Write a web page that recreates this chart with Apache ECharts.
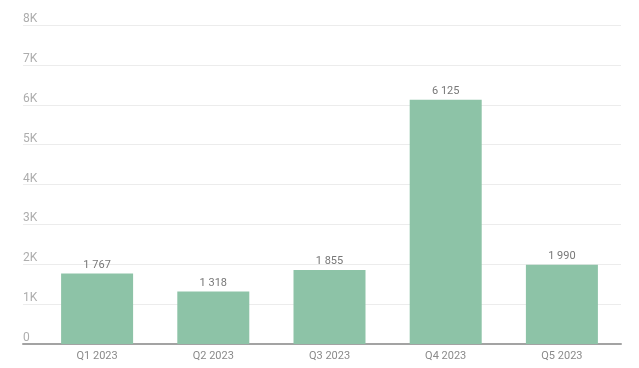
<!DOCTYPE html>
<html>
<head>
<meta charset="utf-8">
<script src="https://cdn.jsdelivr.net/npm/echarts@6/dist/echarts.min.js"></script>
<style>
html,body{margin:0;padding:0;background:#fff;}
#c{width:639px;height:368px;}
</style>
</head>
<body>
<div id="c"></div>
<script>
const categories = ['Q1 2023', 'Q2 2023', 'Q3 2023', 'Q4 2023', 'Q5 2023'];
const values = [1767, 1318, 1855, 6125, 1990];
const yMin = 0, yMax = 8000, yStep = 1000;

function fmtThousands(v) {
  return String(v).replace(/\B(?=(\d{3})+(?!\d))/g, ' ');
}

const chart = echarts.init(document.getElementById('c'), null, {renderer: 'canvas'});
chart.setOption({
  animation: false,
  textStyle: {fontFamily: 'Roboto'},
  grid: [
    {left: 23, right: 18, top: 25, bottom: 24},
    {left: 39, right: 19, top: 25, bottom: 24}
  ],
  xAxis: [
    {
      gridIndex: 0, type: 'category', data: [''],
      axisLine: {show: true, lineStyle: {color: '#a3a3a3', width: 2}},
      axisTick: {show: false}, axisLabel: {show: false}, splitLine: {show: false}
    },
    {
      gridIndex: 1, type: 'category', data: categories,
      axisLine: {show: false}, axisTick: {show: false},
      axisLabel: {color: '#8a8a8a', fontSize: 11, margin: 7, fontFamily: 'Roboto'}
    }
  ],
  yAxis: [
    {
      gridIndex: 0, type: 'value', min: yMin, max: yMax, interval: yStep,
      axisLine: {show: false}, axisTick: {show: false},
      splitLine: {lineStyle: {color: '#ececec', width: 1}},
      axisLabel: {
        inside: true, margin: 0, verticalAlign: 'bottom', padding: [0, 0, 0, 0],
        color: '#adadad', fontSize: 12, fontFamily: 'Roboto',
        formatter: v => v === 0 ? '0' : (v / 1000) + 'K'
      }
    },
    {
      gridIndex: 1, type: 'value', min: yMin, max: yMax, interval: yStep, show: false,
      splitLine: {show: false}
    }
  ],
  series: [{
    type: 'bar', xAxisIndex: 1, yAxisIndex: 1, data: values, barWidth: 72,
    itemStyle: {color: '#8dc3a7'},
    label: {
      show: true, position: 'top', distance: 3, color: '#777777', fontSize: 11,
      fontFamily: 'Roboto', formatter: p => fmtThousands(p.value)
    }
  }]
});
</script>
</body>
</html>
